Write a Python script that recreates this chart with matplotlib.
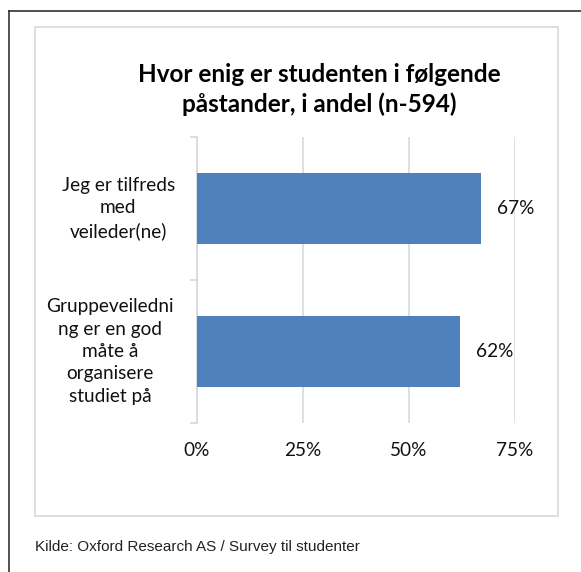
import numpy as np
import matplotlib.pyplot as plt
from matplotlib.patches import Rectangle
from matplotlib.lines import Line2D

plt.rcParams['font.family'] = ['Lato', 'DejaVu Sans']

#%% Data
categories = ['Jeg er tilfreds\nmed\nveileder(ne)',
              'Gruppeveiledni\nng er en god\nmåte å\norganisere\nstudiet på']
values = [67, 62]
xticks = [0, 25, 50, 75]
xtick_labels = ['0%', '25%', '50%', '75%']
title = 'Hvor enig er studenten i følgende\npåstander, i andel (n-594)'
source = 'Kilde: Oxford Research AS / Survey til studenter'

#%% Figure
W, H = 581, 572
fig = plt.figure(figsize=(W/100, H/100), dpi=100)
fig.patch.set_facecolor('white')

# outer frame (left + top)
fig.add_artist(Line2D([9/W, 9/W], [0, 1 - 11/H], color='#333333', lw=1.2))
fig.add_artist(Line2D([9/W, 1], [1 - 11/H, 1 - 11/H], color='#333333', lw=1.2))
# chart box
fig.add_artist(Rectangle((35/W, 1 - 516/H), (558 - 35)/W, (516 - 27)/H,
                         fill=False, edgecolor='#d9d9d9', lw=1.2))

ax = fig.add_axes([197/W, 1 - 423/H, (515 - 197)/W, (423 - 137)/H])
y = np.arange(len(categories))
ax.barh(y, values, height=0.5, color='#4f81bd', zorder=3)
ax.set_xlim(0, 75)
ax.set_ylim(1.5, -0.5)

for yi, v in zip(y, values):
    ax.text(v + 3.8, yi, f'{v}%', va='center', ha='left', fontsize=13.7, color='#111111')

ax.set_xticks(xticks, xtick_labels, fontsize=13.7)
ax.tick_params(axis='x', length=0, pad=14, colors='#111111')
ax.xaxis.grid(True, color='#d9d9d9', lw=1.2, zorder=0)

# category labels (Excel centres them slightly differently)
label_x = [-0.248, -0.274]
ax.set_yticks(y, [''] * len(y))
for lx, yi, cat in zip(label_x, y, categories):
    ax.text(lx, yi, cat, transform=ax.get_yaxis_transform(), ha='center', va='center',
            multialignment='center', fontsize=13.7, linespacing=1.38, color='#111111')
ax.set_yticks([-0.5, 0.5, 1.5], minor=True)
ax.tick_params(axis='y', which='major', length=0)
ax.tick_params(axis='y', which='minor', length=5, color='#d9d9d9', width=1.2)

for s in ['top', 'right', 'bottom']:
    ax.spines[s].set_visible(False)
ax.spines['left'].set_color('#d9d9d9')
ax.spines['left'].set_linewidth(1.2)

fig.text(319/W, 1 - 89.5/H, title, ha='center', va='center', fontsize=17.5,
         fontweight='bold', linespacing=1.28)
fig.text(35/W, 1 - 547/H, source, ha='left', va='center', fontsize=11,
         family='Liberation Sans', color='#222222')

fig.savefig('out.png', dpi=100)
